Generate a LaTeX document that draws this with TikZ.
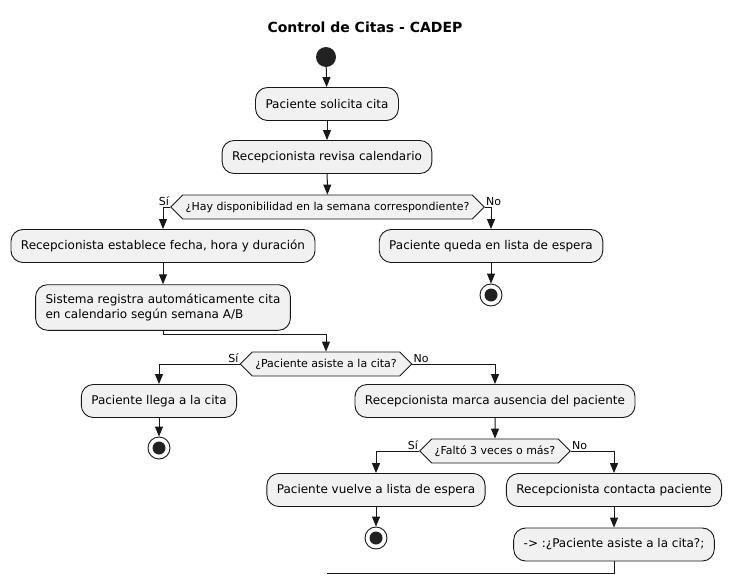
\documentclass[tikz,border=0pt]{standalone}
\usepackage{fontspec}
\setmainfont{DejaVu Sans}
\usetikzlibrary{arrows.meta,shapes.symbols,calc}
\definecolor{boxfill}{HTML}{F1F1F1}
\definecolor{ink}{HTML}{181818}
\definecolor{dot}{HTML}{222222}
\begin{document}
\begin{tikzpicture}[x=1pt,y=-1pt,
  act/.style={draw=ink, fill=boxfill, rounded corners=12pt, line width=0.9pt, inner xsep=10pt, inner ysep=9.5pt, minimum height=33pt, font=\fontsize{12}{14.5}\selectfont, align=left},
  dec/.style={signal, signal to=west and east, signal pointer angle=90, draw=ink, fill=boxfill, line width=0.9pt, inner xsep=3pt, inner ysep=0pt, minimum height=24pt, font=\fontsize{11}{13}\selectfont},
  lbl/.style={font=\fontsize{11}{13}\selectfont, inner sep=1pt},
  flow/.style={draw=ink, line width=1pt, -{Triangle[length=10pt,width=8pt]}},
  plain/.style={draw=ink, line width=1pt},
  startnode/.style={circle, fill=dot, minimum size=20pt, inner sep=0pt},
  endnode/.style={circle, draw=ink, fill=white, line width=0.9pt, minimum size=22pt, inner sep=0pt,
    path picture={\fill[dot] (path picture bounding box.center) circle (6.5pt);}}
]
\useasboundingbox (0,0) rectangle (731,584);
\fill[white] (0,0) rectangle (731,584);

\node[font=\fontsize{14}{16}\selectfont\bfseries] (title) at (365,27) {Control de Citas - CADEP};

\node[startnode] (start) at (326,57) {};
\node[act] (b1) at (327,104) {Paciente solicita cita};
\node[act] (b2) at (327,157) {Recepcionista revisa calendario};
\node[dec] (d1) at (327.5,207) {¿Hay disponibilidad en la semana correspondiente?};
\node[act] (b3) at (163,246) {Recepcionista establece fecha, hora y duración};
\node[act] (b4) at (163,307.5) {Sistema registra automáticamente cita\\en calendario según semana A/B};
\node[act] (bq) at (491,246) {Paciente queda en lista de espera};
\node[endnode] (e1) at (491,295) {};
\node[dec] (d2) at (326,364) {¿Paciente asiste a la cita?};
\node[act] (b5) at (159,401) {Paciente llega a la cita};
\node[endnode] (e2) at (159,448) {};
\node[act] (b6) at (495,401) {Recepcionista marca ausencia del paciente};
\node[dec] (d3) at (495,451) {¿Faltó 3 veces o más?};
\node[act] (b7) at (376,490) {Paciente vuelve a lista de espera};
\node[endnode] (e3) at (376,538) {};
\node[act] (b8) at (614,490) {Recepcionista contacta paciente};
\node[act] (b9) at (614,544.5) {-> :¿Paciente asiste a la cita?;};
\coordinate (loopend) at (327,573);

\draw[flow] (start) -- (b1);
\draw[flow] (b1) -- (b2);
\draw[flow] (b2) -- (d1);
\draw[flow] (d1.west) -| (b3.north);
\node[lbl, anchor=south east] (s1) at (d1.west) {Sí};
\draw[flow] (d1.east) -| (bq.north);
\node[lbl, anchor=south west] (n1) at (d1.east) {No};
\draw[flow] (bq) -- (e1);
\draw[flow] (b3) -- (b4);
\draw[flow] (b4.south) -- ++(0,4) -| (d2.north);
\draw[flow] (d2.west) -| (b5.north);
\node[lbl, anchor=south east] (s2) at (d2.west) {Sí};
\draw[flow] (d2.east) -| (b6.north);
\node[lbl, anchor=south west] (n2) at (d2.east) {No};
\draw[flow] (b5) -- (e2);
\draw[flow] (b6) -- (d3);
\draw[flow] (d3.west) -| (b7.north);
\node[lbl, anchor=south east] (s3) at (d3.west) {Sí};
\draw[flow] (d3.east) -| (b8.north);
\node[lbl, anchor=south west] (n3) at (d3.east) {No};
\draw[flow] (b7) -- (e3);
\draw[flow] (b8) -- (b9);
\draw[plain] (b9.south) |- (loopend);
\end{tikzpicture}
\end{document}
